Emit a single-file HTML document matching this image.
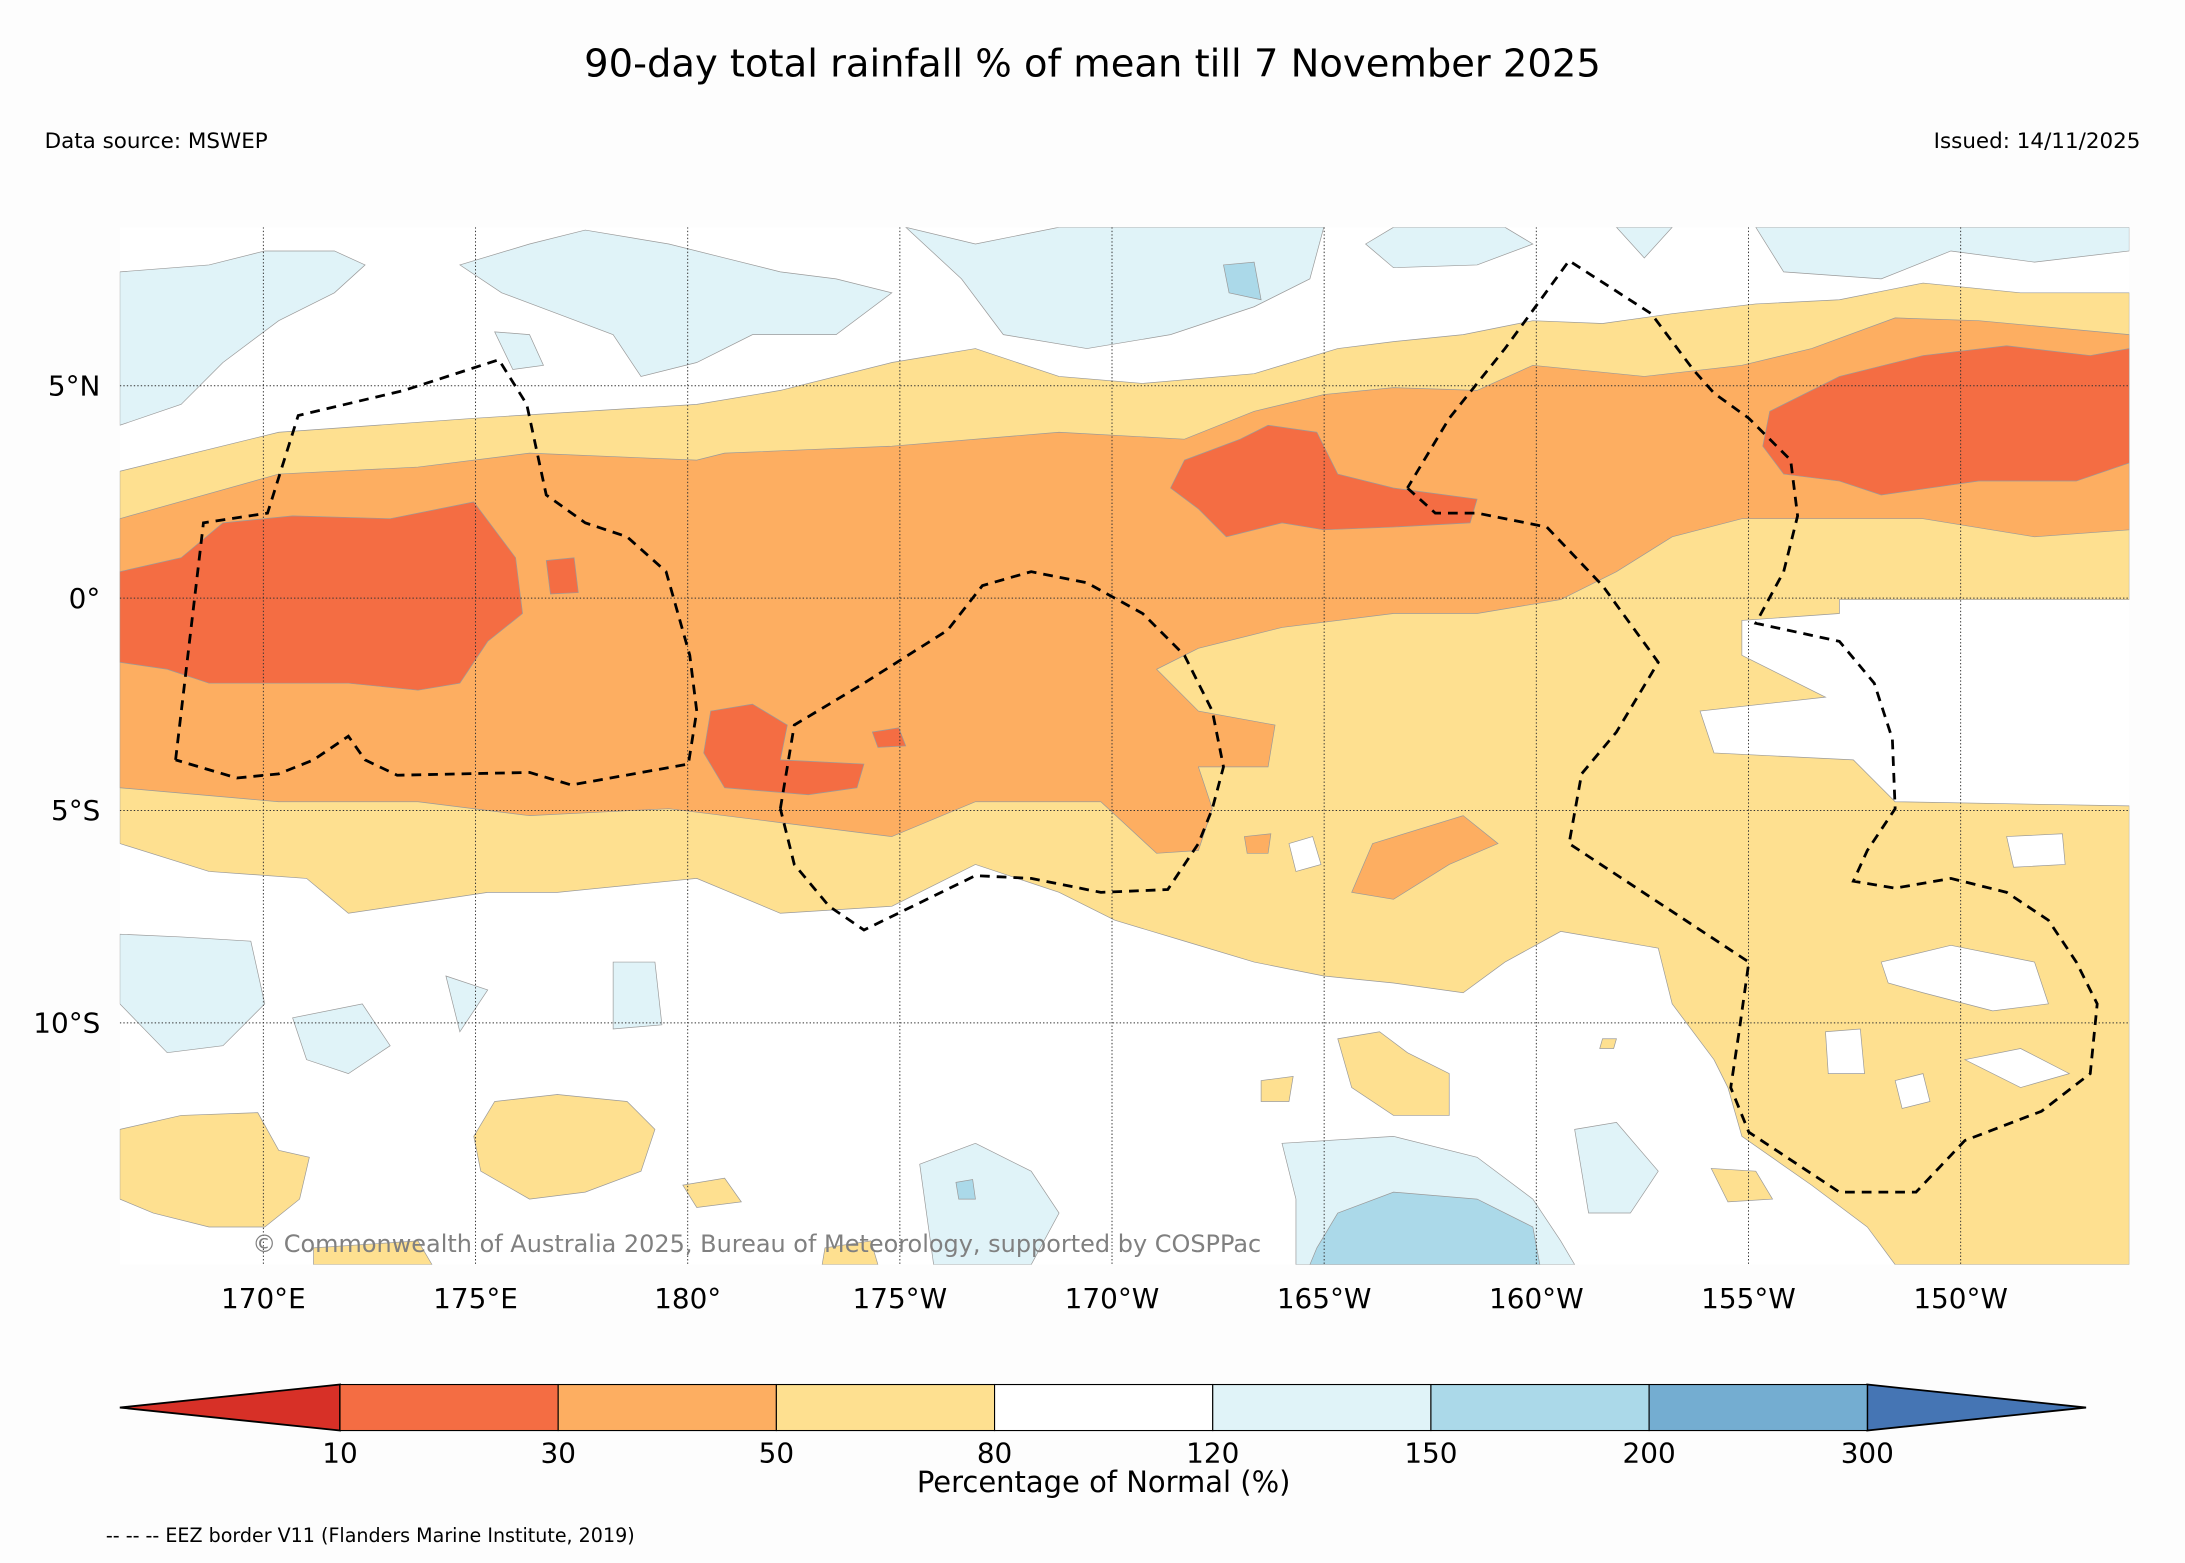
<!DOCTYPE html>
<html><head><meta charset="utf-8"><style>
html,body{margin:0;padding:0;background:#fdfdfd;}
svg{display:block;font-family:"DejaVu Sans","Liberation Sans",sans-serif;}
</style></head><body>
<svg id="chart" width="2185" height="1563" viewBox="0 0 1568 1121" preserveAspectRatio="none" xmlns="http://www.w3.org/2000/svg">
<rect x="0" y="0" width="1568" height="1121" fill="#fdfdfd"/>
<text x="784" y="55" font-size="27.6" text-anchor="middle" fill="#000">90-day total rainfall % of mean till 7 November 2025</text>
<text x="32" y="106" font-size="15.4" fill="#000">Data source: MSWEP</text>
<text x="1536" y="106" font-size="15.4" text-anchor="end" fill="#000">Issued: 14/11/2025</text>
<defs><clipPath id="mapclip"><rect x="86" y="163" width="1442" height="744"/></clipPath></defs>
<g id="map" clip-path="url(#mapclip)">
<rect x="86" y="163" width="1442" height="744" fill="#ffffff"/>
<g id="fills"></g>
<g id="grid"></g>
<g id="eez"></g>
<text x="181" y="898" font-size="17.2" fill="#808080">© Commonwealth of Australia 2025, Bureau of Meteorology, supported by COSPPac</text>
</g>
<g id="axes"></g>
<g id="colorbar"></g>
<text x="792" y="1070" font-size="20.8" text-anchor="middle" fill="#000">Percentage of Normal (%)</text>
<text x="76" y="1106" font-size="13.7" fill="#000">-- -- -- EEZ border V11 (Flanders Marine Institute, 2019)</text>
</svg>
<script>
const NS="http://www.w3.org/2000/svg";
const lonX=lon=>189+(lon-170)*30.45;
const latY=lat=>429-lat*30.46;
const lonTicks=[170,175,180,185,190,195,200,205,210];
const lonLabels=["170°E","175°E","180°","175°W","170°W","165°W","160°W","155°W","150°W"];
const latTicks=[5,0,-5,-10];
const latLabels=["5°N","0°","5°S","10°S"];
const cbBounds=[10,30,50,80,120,150,200,300];
const cbColors=["#f46d43","#fdae61","#fee090","#ffffff","#e0f3f8","#abd9e9","#74add1"];
const yellowBand=[[86,338],[200,310],[340,300],[500,290],[560,280],[640,260],[700,250],[760,270],[820,275],[900,268],[960,250],[1000,245],[1050,240],[1100,230],[1150,232],[1200,225],[1260,218],[1320,215],[1380,203],[1450,210],[1528,210],[1528,430],[1320,430],[1320,440],[1250,445],[1250,470],[1310,500],[1220,510],[1230,540],[1330,545],[1360,575],[1528,578],[1528,907],[1360,907],[1340,880],[1300,850],[1250,815],[1240,780],[1230,760],[1200,720],[1190,680],[1120,668],[1080,690],[1050,712],[1000,705],[950,700],[900,690],[850,675],[800,660],[760,640],[700,620],[640,650],[560,655],[500,630],[400,640],[350,640],[250,655],[220,630],[150,625],[86,605]];
const yellowIslands=[
[[86,810],[130,800],[185,798],[200,825],[222,830],[215,860],[190,880],[150,880],[110,870],[86,860]],
[[355,790],[400,785],[450,790],[470,810],[460,840],[420,855],[380,860],[345,840],[340,815]],
[[960,745],[990,740],[1010,755],[1040,770],[1040,800],[1000,800],[970,780]],
[[1228,838],[1260,840],[1272,860],[1240,862]],[[490,850],[520,845],[532,862],[500,866]],
[[905,775],[928,772],[925,790],[905,790]],[[1150,745],[1160,745],[1158,752],[1148,752]],
[[592,895],[625,890],[630,907],[590,907]],[[225,895],[300,890],[310,907],[225,907]]];
const whiteHoles=[
[[1350,690],[1400,678],[1460,690],[1470,720],[1430,725],[1380,712],[1355,705]],
[[1410,760],[1450,752],[1485,770],[1450,780]],[[1310,740],[1335,738],[1338,770],[1312,770]],
[[1440,600],[1480,598],[1482,620],[1445,622]],[[925,605],[942,600],[948,620],[930,625]],
[[1360,775],[1380,770],[1385,790],[1365,795]]];
const orangeBand=[[86,372],[200,340],[300,335],[380,325],[500,330],[520,325],[640,320],[760,310],[850,315],[900,295],[950,283],[1000,278],[1060,280],[1100,262],[1180,270],[1250,262],[1300,250],[1360,228],[1420,230],[1528,240],[1528,380],[1460,385],[1380,372],[1300,372],[1250,372],[1200,385],[1160,410],[1120,430],[1060,440],[1000,440],[920,450],[860,465],[830,480],[860,510],[915,520],[910,550],[860,550],[870,580],[860,610],[830,612],[790,575],[700,575],[640,600],[560,590],[480,580],[380,585],[300,575],[200,575],[86,565]];
const orangeIslands=[[[985,605],[1050,585],[1075,605],[1040,620],[1000,645],[970,640]],[[893,600],[912,598],[910,612],[895,612]]];
const redRegions=[
[[86,410],[130,400],[160,375],[210,370],[280,372],[340,360],[370,400],[375,440],[350,460],[330,490],[300,495],[250,490],[150,490],[120,480],[86,475]],
[[392,402],[412,400],[415,425],[395,426]],
[[510,510],[540,505],[565,520],[560,545],[620,548],[615,565],[580,570],[520,565],[505,540]],
[[850,330],[890,315],[910,305],[945,310],[960,340],[1000,350],[1060,358],[1055,375],[1000,378],[950,380],[920,375],[880,385],[860,365],[840,350]],
[[1270,295],[1320,270],[1380,255],[1440,248],[1500,255],[1528,250],[1528,332],[1490,345],[1420,345],[1350,355],[1320,345],[1280,340],[1265,320]],
[[626,525],[645,522],[650,535],[630,536]]];
const lightBlue=[
[[86,195],[150,190],[190,180],[240,180],[262,190],[240,210],[200,230],[160,260],[130,290],[86,305]],
[[330,190],[380,175],[420,165],[480,175],[520,185],[560,195],[600,200],[640,210],[600,240],[540,240],[500,260],[460,270],[440,240],[400,225],[360,210]],
[[650,163],[700,175],[760,163],[950,163],[940,200],[900,220],[840,240],[780,250],[720,240],[690,200]],
[[1000,163],[1080,163],[1100,175],[1060,190],[1000,192],[980,175]],
[[1160,163],[1200,163],[1180,185]],
[[1260,163],[1528,163],[1528,180],[1460,188],[1400,180],[1350,200],[1280,195]],
[[86,670],[130,672],[180,675],[190,720],[160,750],[120,755],[86,720]],
[[210,730],[260,720],[280,750],[250,770],[220,760]],
[[320,700],[350,710],[330,740]],[[440,690],[470,690],[475,735],[440,738]],
[[660,835],[700,820],[740,840],[760,870],[740,907],[670,907]],
[[920,820],[1000,815],[1060,830],[1100,860],[1120,890],[1130,907],[930,907],[930,860]],
[[1130,810],[1160,805],[1190,840],[1170,870],[1140,870]],
[[355,238],[380,240],[390,262],[368,265]]];
const midBlue=[[[960,870],[1000,855],[1060,860],[1100,880],[1105,907],[940,907],[945,895]],[[878,190],[900,188],[905,215],[882,210]],[[686,848],[698,846],[700,860],[688,860]]];
const eezLines=[
[[126,545],[146,375],[192,368],[214,298],[290,280],[358,258],[378,290],[392,355],[420,375],[450,385],[478,410],[495,470],[500,510],[494,548],[410,563],[380,554],[285,556],[262,545],[250,528],[225,545],[200,555],[170,558],[126,545]],
[[560,580],[570,520],[620,490],[680,452],[705,420],[740,410],[780,418],[820,440],[850,470],[870,510],[878,550],[870,580],[860,605],[838,638],[790,640],[740,630],[700,628],[620,667],[595,650],[570,620],[560,580]],
[[1010,350],[1030,368],[1060,368],[1110,378],[1150,420],[1190,475],[1160,525],[1135,555],[1126,605],[1255,690],[1248,740],[1242,780],[1255,812],[1320,855],[1375,855],[1410,818],[1465,797],[1500,770],[1505,720],[1490,690],[1470,660],[1440,640],[1400,630],[1360,637],[1330,632],[1340,610],[1360,580],[1358,530],[1345,490],[1320,460],[1260,447],[1280,410],[1290,370],[1285,330],[1255,300],[1230,282],[1215,265],[1185,225],[1126,187],[1080,250],[1040,300],[1010,350]]];

const fills=document.getElementById('fills');
function poly(pts,fill,name,parent){
  const p=document.createElementNS(NS,'polygon');
  p.setAttribute('points',pts.map(q=>q[0]+','+q[1]).join(' '));
  p.setAttribute('fill',fill);p.setAttribute('stroke','#9a9a9a');p.setAttribute('stroke-width','0.5');
  
  
  parent.appendChild(p);
}
lightBlue.forEach(r=>poly(r,cbColors[4],'region-120-150',fills));
midBlue.forEach(r=>poly(r,cbColors[5],'region-150-200',fills));
poly(yellowBand,cbColors[2],'region-50-80',fills);
yellowIslands.forEach(r=>poly(r,cbColors[2],'region-50-80',fills));
whiteHoles.forEach(r=>poly(r,'#ffffff','region-80-120',fills));
poly(orangeBand,cbColors[1],'region-30-50',fills);
orangeIslands.forEach(r=>poly(r,cbColors[1],'region-30-50',fills));
redRegions.forEach(r=>poly(r,cbColors[0],'region-10-30',fills));

const grid=document.getElementById('grid'),axes=document.getElementById('axes');
lonTicks.forEach((v,i)=>{
  const l=document.createElementNS(NS,'line');
  l.setAttribute('x1',lonX(v));l.setAttribute('x2',lonX(v));l.setAttribute('y1',163);l.setAttribute('y2',907);
  l.setAttribute('stroke','#333');l.setAttribute('stroke-width','0.7');l.setAttribute('stroke-dasharray','1,1.5');
  
  
  grid.appendChild(l);
  const t=document.createElementNS(NS,'text');
  t.setAttribute('x',lonX(v));t.setAttribute('y',938);t.setAttribute('font-size','20');t.setAttribute('text-anchor','middle');
  t.textContent=lonLabels[i];
  
  
  axes.appendChild(t);
});
latTicks.forEach((v,i)=>{
  const l=document.createElementNS(NS,'line');
  l.setAttribute('x1',86);l.setAttribute('x2',1528);l.setAttribute('y1',latY(v));l.setAttribute('y2',latY(v));
  l.setAttribute('stroke','#333');l.setAttribute('stroke-width','0.7');l.setAttribute('stroke-dasharray','1,1.5');
  
  
  grid.appendChild(l);
  const t=document.createElementNS(NS,'text');
  t.setAttribute('x',72);t.setAttribute('y',latY(v)+7);t.setAttribute('font-size','20');t.setAttribute('text-anchor','end');
  t.textContent=latLabels[i];
  
  
  axes.appendChild(t);
});
const eez=document.getElementById('eez');
eezLines.forEach(r=>{
  const p=document.createElementNS(NS,'polyline');
  p.setAttribute('points',r.map(q=>q[0]+','+q[1]).join(' '));
  p.setAttribute('fill','none');p.setAttribute('stroke','#000');p.setAttribute('stroke-width','2');p.setAttribute('stroke-dasharray','7,5');
  
  
  eez.appendChild(p);
});
const cb=document.getElementById('colorbar');
const cbL=244,cbR=1340,cbT=993,cbB=1026,n=cbColors.length,w=(cbR-cbL)/n;
const left=document.createElementNS(NS,'polygon');
left.setAttribute('points',`86,1009.5 ${cbL},${cbT} ${cbL},${cbB}`);left.setAttribute('fill','#d73027');left.setAttribute('stroke','#000');left.setAttribute('stroke-width','1.3');


cb.appendChild(left);
const right=document.createElementNS(NS,'polygon');
right.setAttribute('points',`1497,1009.5 ${cbR},${cbT} ${cbR},${cbB}`);right.setAttribute('fill','#4575b4');right.setAttribute('stroke','#000');right.setAttribute('stroke-width','1.3');


cb.appendChild(right);
cbColors.forEach((c,i)=>{
  const r=document.createElementNS(NS,'rect');
  r.setAttribute('x',cbL+i*w);r.setAttribute('y',cbT);r.setAttribute('width',w);r.setAttribute('height',cbB-cbT);
  r.setAttribute('fill',c);r.setAttribute('stroke','#000');r.setAttribute('stroke-width','0.8');
  
  
  cb.appendChild(r);
});
cbBounds.forEach((b,i)=>{
  const t=document.createElementNS(NS,'text');
  t.setAttribute('x',cbL+i*w);t.setAttribute('y',1049);t.setAttribute('font-size','20');t.setAttribute('text-anchor','middle');
  t.textContent=b;
  
  
  cb.appendChild(t);
});
</script>
</body></html>
